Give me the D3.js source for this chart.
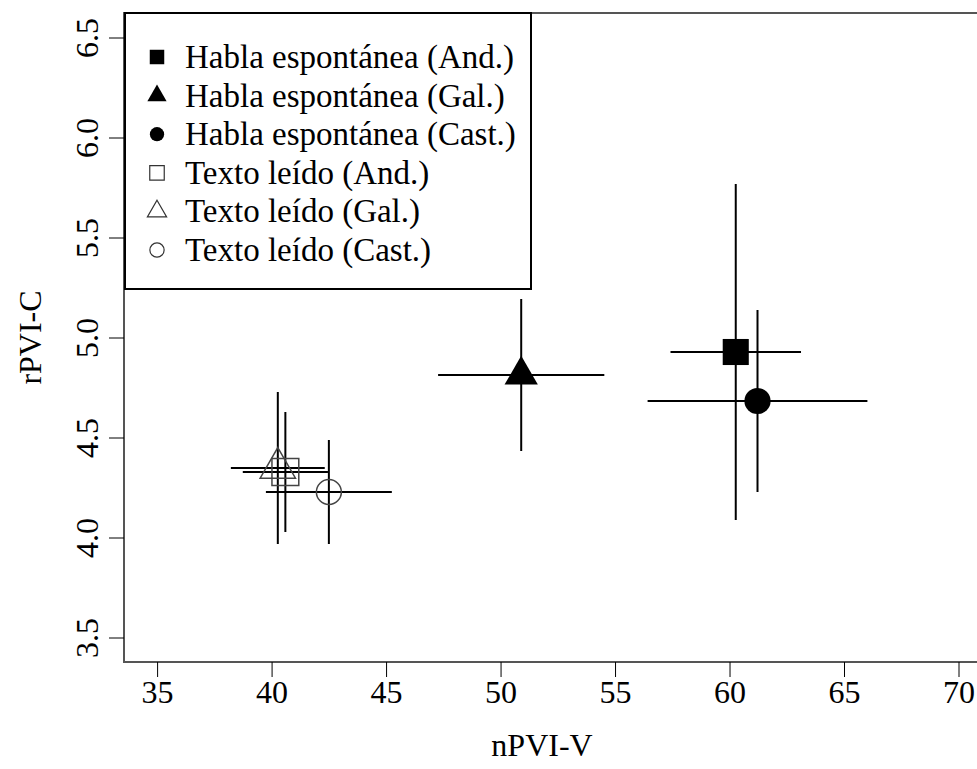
<!DOCTYPE html>
<html>
<head>
<meta charset="utf-8">
<script src="https://cdnjs.cloudflare.com/ajax/libs/d3/7.8.5/d3.min.js"></script>
<style>
  body { margin: 0; background: #fff; }
  svg text { font-family: "Liberation Serif", "Times New Roman", serif; fill: #000; }
</style>
</head>
<body>
<svg id="chart" width="977" height="769"></svg>
<script>
// Data
const groups = ['Habla espontánea (And.)', 'Habla espontánea (Gal.)', 'Habla espontánea (Cast.)',
                'Texto leído (And.)', 'Texto leído (Gal.)', 'Texto leído (Cast.)']
const nPVI = [60.25, 50.88, 61.2, 40.58, 40.25, 42.48]
const nPVIsd = [2.85, 3.63, 4.8, 1.86, 2.05, 2.75]
const rPVI = [4.93, 4.815, 4.685, 4.33, 4.35, 4.23]
const rPVIsd = [0.84, 0.38, 0.455, 0.3, 0.38, 0.26]
const shapes = ['square', 'triangle', 'circle', 'square', 'triangle', 'circle']
const filled = [true, true, true, false, false, false]
const xTicks = [35, 40, 45, 50, 55, 60, 65, 70]
const yTicks = [3.5, 4.0, 4.5, 5.0, 5.5, 6.0, 6.5]

const svg = d3.select('#chart')
const serif = '"Liberation Serif", "Times New Roman", serif'

const x = d3.scaleLinear().domain([35, 70]).range([157.6, 959])
const y = d3.scaleLinear().domain([3.5, 6.5]).range([638, 38])

const box = {left: 124, top: 13, right: 995, bottom: 662}

// symbol helpers (areas in px^2)
const symType = {square: d3.symbolSquare, triangle: d3.symbolTriangle, circle: d3.symbolCircle}
const bigSize = {square: 680, triangle: 480, circle: 540}
const openSize = {square: 720, triangle: 540, circle: 490}
const smallSize = {square: 210, triangle: 160, circle: 160}

// error bars
const bars = svg.append('g')
groups.forEach((g, i) => {
    bars.append('line')
        .attr('x1', x(nPVI[i] - nPVIsd[i])).attr('x2', x(nPVI[i] + nPVIsd[i]))
        .attr('y1', y(rPVI[i])).attr('y2', y(rPVI[i]))
        .attr('stroke', '#000').attr('stroke-width', 2)
    bars.append('line')
        .attr('x1', x(nPVI[i])).attr('x2', x(nPVI[i]))
        .attr('y1', y(rPVI[i] - rPVIsd[i])).attr('y2', y(rPVI[i] + rPVIsd[i]))
        .attr('stroke', '#000').attr('stroke-width', 2)
})

// points
svg.append('g').selectAll('path')
    .data(groups)
    .join('path')
    .attr('transform', (d, i) => `translate(${x(nPVI[i])},${y(rPVI[i])})`)
    .attr('d', (d, i) => d3.symbol()
        .type(symType[shapes[i]])
        .size(filled[i] ? bigSize[shapes[i]] : openSize[shapes[i]])())
    .attr('fill', (d, i) => filled[i] ? '#000' : 'none')
    .attr('stroke', (d, i) => filled[i] ? 'none' : '#444')
    .attr('stroke-width', 1.5)

// plot box
svg.append('rect')
    .attr('x', box.left).attr('y', box.top)
    .attr('width', box.right - box.left).attr('height', box.bottom - box.top)
    .attr('fill', 'none').attr('stroke', '#555').attr('stroke-width', 2)

// x axis
const xAxis = svg.append('g')
xAxis.selectAll('line')
    .data(xTicks)
    .join('line')
    .attr('x1', d => x(d)).attr('x2', d => x(d))
    .attr('y1', box.bottom).attr('y2', box.bottom + 15)
    .attr('stroke', '#000').attr('stroke-width', 1)
xAxis.selectAll('text')
    .data(xTicks)
    .join('text')
    .attr('x', d => x(d)).attr('y', 703)
    .attr('text-anchor', 'middle')
    .attr('font-family', serif)
    .attr('font-size', 32)
    .text(d => String(d))

// y axis
const yAxis = svg.append('g')
yAxis.selectAll('line')
    .data(yTicks)
    .join('line')
    .attr('x1', box.left - 15).attr('x2', box.left)
    .attr('y1', d => y(d)).attr('y2', d => y(d))
    .attr('stroke', '#000').attr('stroke-width', 1)
yAxis.selectAll('text')
    .data(yTicks)
    .join('text')
    .attr('transform', d => `translate(98,${y(d)}) rotate(-90)`)
    .attr('text-anchor', 'middle')
    .attr('font-family', serif)
    .attr('font-size', 32)
    .text(d => d.toFixed(1))

// axis titles
svg.append('text')
    .attr('x', 542).attr('y', 756)
    .attr('text-anchor', 'middle')
    .attr('font-family', serif)
    .attr('font-size', 32)
    .text('nPVI-V')
svg.append('text')
    .attr('transform', `translate(41,${(box.top + box.bottom) / 2}) rotate(-90)`)
    .attr('text-anchor', 'middle')
    .attr('font-family', serif)
    .attr('font-size', 32)
    .text('rPVI-C')

// legend
const legend = svg.append('g')
legend.append('rect')
    .attr('x', 125).attr('y', box.top)
    .attr('width', 406).attr('height', 276)
    .attr('fill', '#fff').attr('stroke', '#000').attr('stroke-width', 2)
const rowY = i => 57 + i * 38.6
legend.selectAll('path')
    .data(groups)
    .join('path')
    .attr('transform', (d, i) => `translate(157,${rowY(i)})`)
    .attr('d', (d, i) => d3.symbol().type(symType[shapes[i]]).size(smallSize[shapes[i]])())
    .attr('fill', (d, i) => filled[i] ? '#000' : 'none')
    .attr('stroke', (d, i) => filled[i] ? 'none' : '#333')
    .attr('stroke-width', 1.2)
legend.selectAll('text')
    .data(groups)
    .join('text')
    .attr('x', 185).attr('y', (d, i) => rowY(i) + 11)
    .attr('font-family', serif)
    .attr('font-size', 33)
    .text(d => d)
</script>
</body>
</html>
